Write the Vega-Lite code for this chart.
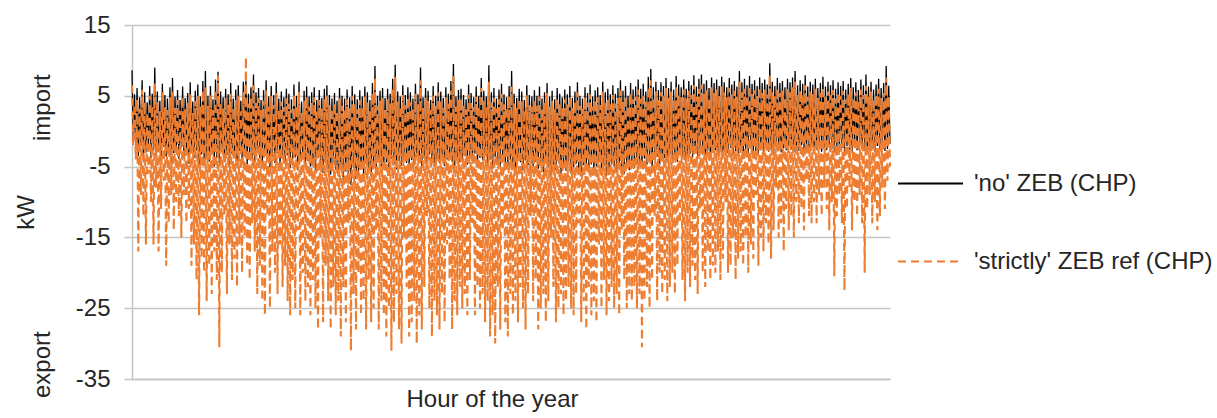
{
"$schema":"https://vega.github.io/schema/vega-lite/v6.json",
"width":758,"height":354,
"autosize":"none",
"padding":{"left":132,"top":25,"right":327,"bottom":39},
"background":"white",
"config":{"view":{"stroke":null},"font":"Liberation Sans"},
"data":{"values":[
{"h":0,"n":8.6,"o":6.5},{"h":1,"n":-1.5,"o":-2},{"h":2,"n":5.2,"o":3.8},{"h":3,"n":-2.8,"o":-4},{"h":4,"n":6.1,"o":4.5},{"h":5,"n":-3.5,"o":-17},{"h":6,"n":4.8,"o":3.2},{"h":7,"n":-2.1,"o":-9},{"h":8,"n":7.2,"o":5.9},{"h":9,"n":-4.2,"o":-12},{"h":10,"n":5.5,"o":4.1},{"h":11,"n":-3.0,"o":-16},{"h":12,"n":4.1,"o":2.5},{"h":13,"n":-2.4,"o":-6},{"h":14,"n":6.4,"o":5.0},{"h":15,"n":-3.8,"o":-10},{"h":16,"n":5.3,"o":3.6},{"h":17,"n":-2.7,"o":-16},{"h":18,"n":9.0,"o":6.8},{"h":19,"n":-3.3,"o":-8},
{"h":20,"n":5.6,"o":4.2},{"h":21,"n":-2.9,"o":-17},{"h":22,"n":4.3,"o":2.8},{"h":23,"n":-4.1,"o":-11},{"h":24,"n":6.7,"o":5.5},{"h":25,"n":-2.2,"o":-7},{"h":26,"n":5.1,"o":3.4},{"h":27,"n":-3.6,"o":-19},{"h":28,"n":4.6,"o":3.0},{"h":29,"n":-2.5,"o":-13},{"h":30,"n":6.2,"o":4.8},{"h":31,"n":-4.4,"o":-9},{"h":32,"n":7.5,"o":5.6},{"h":33,"n":-3.1,"o":-14},{"h":34,"n":4.9,"o":3.3},{"h":35,"n":-2.6,"o":-10},{"h":36,"n":5.8,"o":4.4},{"h":37,"n":-3.9,"o":-12},{"h":38,"n":4.4,"o":2.9},{"h":39,"n":-2.3,"o":-15},
{"h":40,"n":6.3,"o":4.9},{"h":41,"n":-3.4,"o":-9},{"h":42,"n":4.7,"o":3.1},{"h":43,"n":-2.4,"o":-13},{"h":44,"n":5.4,"o":4.0},{"h":45,"n":-4.6,"o":-11},{"h":46,"n":6.9,"o":5.2},{"h":47,"n":-3.0,"o":-19},{"h":48,"n":4.2,"o":2.6},{"h":49,"n":-3.8,"o":-16},{"h":50,"n":5.7,"o":4.3},{"h":51,"n":-2.7,"o":-21},{"h":52,"n":6.6,"o":5.0},{"h":53,"n":-4.9,"o":-26},{"h":54,"n":4.9,"o":3.5},{"h":55,"n":-3.3,"o":-18},{"h":56,"n":7.1,"o":5.8},{"h":57,"n":-4.1,"o":-20},{"h":58,"n":8.5,"o":6.2},{"h":59,"n":-3.6,"o":-24},
{"h":60,"n":5.0,"o":3.6},{"h":61,"n":-4.3,"o":-19},{"h":62,"n":6.4,"o":5.1},{"h":63,"n":-3.1,"o":-23},{"h":64,"n":4.5,"o":3.0},{"h":65,"n":-5.0,"o":-17},{"h":66,"n":7.3,"o":5.9},{"h":67,"n":-3.7,"o":-21},{"h":68,"n":8.4,"o":7.9},{"h":69,"n":-4.5,"o":-30.5},{"h":70,"n":5.6,"o":4.0},{"h":71,"n":-2.9,"o":-20},{"h":72,"n":4.8,"o":3.2},{"h":73,"n":-4.0,"o":-12},{"h":74,"n":6.0,"o":4.7},{"h":75,"n":-3.4,"o":-23},{"h":76,"n":5.2,"o":3.9},{"h":77,"n":-4.8,"o":-16},{"h":78,"n":6.8,"o":5.3},{"h":79,"n":-3.2,"o":-21},
{"h":80,"n":4.6,"o":3.3},{"h":81,"n":-3.5,"o":-18},{"h":82,"n":5.9,"o":4.4},{"h":83,"n":-4.6,"o":-22},{"h":84,"n":6.5,"o":5.0},{"h":85,"n":-2.8,"o":-16},{"h":86,"n":4.3,"o":2.8},{"h":87,"n":-4.0,"o":-20},{"h":88,"n":7.0,"o":5.6},{"h":89,"n":-3.3,"o":-15},{"h":90,"n":8.0,"o":10.5},{"h":91,"n":-4.7,"o":-19},{"h":92,"n":5.3,"o":3.9},{"h":93,"n":-3.0,"o":-21},{"h":94,"n":6.2,"o":4.8},{"h":95,"n":-3.9,"o":-13},{"h":96,"n":8.0,"o":6.5},{"h":97,"n":-4.4,"o":-17},{"h":98,"n":5.5,"o":4.0},{"h":99,"n":-2.6,"o":-23},
{"h":100,"n":6.1,"o":4.7},{"h":101,"n":-3.8,"o":-19},{"h":102,"n":4.4,"o":3.0},{"h":103,"n":-4.9,"o":-24},{"h":104,"n":5.8,"o":4.3},{"h":105,"n":-3.2,"o":-26},{"h":106,"n":7.2,"o":5.8},{"h":107,"n":-4.3,"o":-12},{"h":108,"n":4.9,"o":3.5},{"h":109,"n":-5.1,"o":-25},{"h":110,"n":6.4,"o":5.0},{"h":111,"n":-3.6,"o":-17},{"h":112,"n":5.1,"o":3.7},{"h":113,"n":-4.5,"o":-20},{"h":114,"n":6.9,"o":5.4},{"h":115,"n":-3.1,"o":-23},{"h":116,"n":4.6,"o":3.2},{"h":117,"n":-4.8,"o":-16},{"h":118,"n":5.6,"o":4.2},{"h":119,"n":-3.9,"o":-22},
{"h":120,"n":4.8,"o":3.4},{"h":121,"n":-4.6,"o":-19},{"h":122,"n":6.0,"o":4.6},{"h":123,"n":-3.4,"o":-24},{"h":124,"n":5.3,"o":3.9},{"h":125,"n":-5.2,"o":-26},{"h":126,"n":4.5,"o":3.1},{"h":127,"n":-4.0,"o":-21},{"h":128,"n":6.6,"o":5.2},{"h":129,"n":-3.7,"o":-25},{"h":130,"n":5.0,"o":3.6},{"h":131,"n":-5.5,"o":-14},{"h":132,"n":7.0,"o":5.6},{"h":133,"n":-4.1,"o":-26},{"h":134,"n":4.2,"o":2.8},{"h":135,"n":-3.5,"o":-20},{"h":136,"n":5.7,"o":4.3},{"h":137,"n":-4.9,"o":-24},{"h":138,"n":6.3,"o":4.9},{"h":139,"n":-4.2,"o":-22},
{"h":140,"n":4.9,"o":3.5},{"h":141,"n":-5.0,"o":-26},{"h":142,"n":5.5,"o":4.1},{"h":143,"n":-4.2,"o":-21},{"h":144,"n":6.2,"o":4.8},{"h":145,"n":-5.6,"o":-25},{"h":146,"n":4.4,"o":3.0},{"h":147,"n":-3.8,"o":-28},{"h":148,"n":5.8,"o":4.4},{"h":149,"n":-4.7,"o":-15},{"h":150,"n":4.7,"o":3.3},{"h":151,"n":-5.9,"o":-27},{"h":152,"n":6.0,"o":4.6},{"h":153,"n":-4.4,"o":-19},{"h":154,"n":6.5,"o":5.1},{"h":155,"n":-5.3,"o":-24},{"h":156,"n":5.1,"o":3.7},{"h":157,"n":-6.1,"o":-28},{"h":158,"n":4.6,"o":3.2},{"h":159,"n":-4.5,"o":-22},
{"h":160,"n":5.4,"o":4.0},{"h":161,"n":-5.4,"o":-26},{"h":162,"n":4.3,"o":2.9},{"h":163,"n":-6.3,"o":-24},{"h":164,"n":6.1,"o":4.7},{"h":165,"n":-4.8,"o":-29},{"h":166,"n":5.0,"o":3.6},{"h":167,"n":-7.0,"o":-22},{"h":168,"n":4.6,"o":3.2},{"h":169,"n":-5.7,"o":-27},{"h":170,"n":5.9,"o":4.5},{"h":171,"n":-6.5,"o":-13},{"h":172,"n":4.8,"o":3.4},{"h":173,"n":-7.6,"o":-31},{"h":174,"n":6.4,"o":5.0},{"h":175,"n":-5.1,"o":-23},{"h":176,"n":5.2,"o":3.8},{"h":177,"n":-6.8,"o":-28},{"h":178,"n":4.5,"o":3.1},{"h":179,"n":-5.9,"o":-20},
{"h":180,"n":5.8,"o":4.4},{"h":181,"n":-5.2,"o":-26},{"h":182,"n":4.9,"o":3.5},{"h":183,"n":-6.0,"o":-24},{"h":184,"n":6.3,"o":4.9},{"h":185,"n":-4.6,"o":-28},{"h":186,"n":5.5,"o":4.1},{"h":187,"n":-5.5,"o":-21},{"h":188,"n":4.4,"o":3.0},{"h":189,"n":-6.4,"o":-27},{"h":190,"n":6.8,"o":5.4},{"h":191,"n":-4.9,"o":-25},{"h":192,"n":9.2,"o":7.5},{"h":193,"n":-5.7,"o":-14},{"h":194,"n":5.0,"o":3.6},{"h":195,"n":-4.3,"o":-28},{"h":196,"n":5.7,"o":4.3},{"h":197,"n":-5.0,"o":-24},{"h":198,"n":6.1,"o":4.7},{"h":199,"n":-4.7,"o":-26},
{"h":200,"n":4.7,"o":3.3},{"h":201,"n":-4.4,"o":-29},{"h":202,"n":6.0,"o":4.6},{"h":203,"n":-5.1,"o":-25},{"h":204,"n":5.3,"o":3.9},{"h":205,"n":-3.9,"o":-31},{"h":206,"n":7.4,"o":6.0},{"h":207,"n":-4.7,"o":-27},{"h":208,"n":9.4,"o":7.7},{"h":209,"n":-5.4,"o":-23},{"h":210,"n":5.6,"o":4.2},{"h":211,"n":-4.2,"o":-28},{"h":212,"n":4.9,"o":3.5},{"h":213,"n":-4.9,"o":-30},{"h":214,"n":6.5,"o":5.1},{"h":215,"n":-3.7,"o":-15},{"h":216,"n":5.1,"o":3.7},{"h":217,"n":-4.5,"o":-22},{"h":218,"n":6.2,"o":4.8},{"h":219,"n":-5.0,"o":-29},
{"h":220,"n":5.5,"o":4.1},{"h":221,"n":-4.1,"o":-27},{"h":222,"n":4.6,"o":3.2},{"h":223,"n":-4.8,"o":-24},{"h":224,"n":6.7,"o":5.3},{"h":225,"n":-3.6,"o":-30},{"h":226,"n":5.2,"o":3.8},{"h":227,"n":-4.4,"o":-26},{"h":228,"n":9.0,"o":7.2},{"h":229,"n":-5.2,"o":-28},{"h":230,"n":4.8,"o":3.4},{"h":231,"n":-3.9,"o":-22},{"h":232,"n":6.1,"o":4.7},{"h":233,"n":-4.6,"o":-12},{"h":234,"n":5.7,"o":4.3},{"h":235,"n":-3.3,"o":-25},{"h":236,"n":4.4,"o":3.0},{"h":237,"n":-4.2,"o":-29},{"h":238,"n":6.4,"o":5.0},{"h":239,"n":-4.9,"o":-24},
{"h":240,"n":5.0,"o":3.6},{"h":241,"n":-3.8,"o":-26},{"h":242,"n":6.9,"o":5.5},{"h":243,"n":-4.5,"o":-28},{"h":244,"n":5.6,"o":4.2},{"h":245,"n":-3.4,"o":-23},{"h":246,"n":4.7,"o":3.3},{"h":247,"n":-4.9,"o":-27},{"h":248,"n":6.2,"o":4.8},{"h":249,"n":-4.0,"o":-16},{"h":250,"n":5.3,"o":3.9},{"h":251,"n":-3.6,"o":-21},{"h":252,"n":7.1,"o":5.7},{"h":253,"n":-4.3,"o":-28},{"h":254,"n":9.5,"o":7.8},{"h":255,"n":-5.0,"o":-24},{"h":256,"n":4.9,"o":3.5},{"h":257,"n":-3.7,"o":-26},{"h":258,"n":5.8,"o":4.4},{"h":259,"n":-4.4,"o":-22},
{"h":260,"n":6.0,"o":4.6},{"h":261,"n":-4.2,"o":-25},{"h":262,"n":5.1,"o":3.7},{"h":263,"n":-3.5,"o":-23},{"h":264,"n":4.5,"o":3.1},{"h":265,"n":-4.7,"o":-26},{"h":266,"n":6.6,"o":5.2},{"h":267,"n":-3.9,"o":-21},{"h":268,"n":5.4,"o":4.0},{"h":269,"n":-4.4,"o":-13},{"h":270,"n":4.8,"o":3.4},{"h":271,"n":-3.2,"o":-26},{"h":272,"n":6.3,"o":4.9},{"h":273,"n":-4.6,"o":-22},{"h":274,"n":5.0,"o":3.6},{"h":275,"n":-3.8,"o":-25},{"h":276,"n":7.5,"o":6.1},{"h":277,"n":-4.1,"o":-23},{"h":278,"n":5.7,"o":4.3},{"h":279,"n":-3.4,"o":-27},
{"h":280,"n":4.9,"o":3.5},{"h":281,"n":-4.8,"o":-24},{"h":282,"n":9.3,"o":7.0},{"h":283,"n":-4.0,"o":-29},{"h":284,"n":5.5,"o":4.1},{"h":285,"n":-5.3,"o":-26},{"h":286,"n":6.1,"o":4.7},{"h":287,"n":-3.7,"o":-30},{"h":288,"n":4.6,"o":3.2},{"h":289,"n":-4.5,"o":-22},{"h":290,"n":5.9,"o":4.5},{"h":291,"n":-5.0,"o":-28},{"h":292,"n":6.7,"o":5.3},{"h":293,"n":-3.9,"o":-14},{"h":294,"n":5.2,"o":3.8},{"h":295,"n":-4.7,"o":-27},{"h":296,"n":4.8,"o":3.4},{"h":297,"n":-5.4,"o":-29},{"h":298,"n":6.4,"o":5.0},{"h":299,"n":-4.1,"o":-23},
{"h":300,"n":8.5,"o":6.3},{"h":301,"n":-4.6,"o":-26},{"h":302,"n":5.3,"o":3.9},{"h":303,"n":-5.2,"o":-24},{"h":304,"n":4.7,"o":3.3},{"h":305,"n":-3.9,"o":-27},{"h":306,"n":6.0,"o":4.6},{"h":307,"n":-4.4,"o":-22},{"h":308,"n":5.6,"o":4.2},{"h":309,"n":-5.6,"o":-25},{"h":310,"n":4.4,"o":3.0},{"h":311,"n":-4.1,"o":-28},{"h":312,"n":6.5,"o":5.1},{"h":313,"n":-4.8,"o":-23},{"h":314,"n":5.1,"o":3.7},{"h":315,"n":-3.6,"o":-12},{"h":316,"n":4.9,"o":3.5},{"h":317,"n":-5.0,"o":-24},{"h":318,"n":5.8,"o":4.4},{"h":319,"n":-4.3,"o":-21},
{"h":320,"n":5.0,"o":3.6},{"h":321,"n":-5.3,"o":-28},{"h":322,"n":6.3,"o":4.9},{"h":323,"n":-4.5,"o":-25},{"h":324,"n":4.6,"o":3.2},{"h":325,"n":-5.8,"o":-23},{"h":326,"n":5.5,"o":4.1},{"h":327,"n":-4.2,"o":-27},{"h":328,"n":6.8,"o":5.4},{"h":329,"n":-5.0,"o":-24},{"h":330,"n":4.9,"o":3.5},{"h":331,"n":-6.2,"o":-15},{"h":332,"n":5.7,"o":4.3},{"h":333,"n":-4.7,"o":-22},{"h":334,"n":4.5,"o":3.1},{"h":335,"n":-5.5,"o":-27},{"h":336,"n":6.1,"o":4.7},{"h":337,"n":-4.3,"o":-25},{"h":338,"n":5.3,"o":3.9},{"h":339,"n":-5.9,"o":-23},
{"h":340,"n":4.8,"o":3.4},{"h":341,"n":-4.9,"o":-26},{"h":342,"n":5.9,"o":4.5},{"h":343,"n":-5.6,"o":-24},{"h":344,"n":5.2,"o":3.8},{"h":345,"n":-4.4,"o":-22},{"h":346,"n":6.4,"o":5.0},{"h":347,"n":-6.0,"o":-25},{"h":348,"n":4.7,"o":3.3},{"h":349,"n":-5.1,"o":-26},{"h":350,"n":5.6,"o":4.2},{"h":351,"n":-4.6,"o":-23},{"h":352,"n":6.9,"o":5.5},{"h":353,"n":-5.4,"o":-13},{"h":354,"n":5.0,"o":3.6},{"h":355,"n":-6.4,"o":-27},{"h":356,"n":4.6,"o":3.2},{"h":357,"n":-4.8,"o":-24},{"h":358,"n":6.2,"o":4.8},{"h":359,"n":-5.2,"o":-28},
{"h":360,"n":5.4,"o":4.0},{"h":361,"n":-5.5,"o":-22},{"h":362,"n":6.6,"o":5.2},{"h":363,"n":-4.7,"o":-26},{"h":364,"n":4.9,"o":3.5},{"h":365,"n":-6.1,"o":-24},{"h":366,"n":5.8,"o":4.4},{"h":367,"n":-5.0,"o":-27},{"h":368,"n":6.2,"o":4.8},{"h":369,"n":-4.4,"o":-16},{"h":370,"n":5.1,"o":3.7},{"h":371,"n":-5.7,"o":-25},{"h":372,"n":7.0,"o":5.6},{"h":373,"n":-4.9,"o":-21},{"h":374,"n":5.5,"o":4.1},{"h":375,"n":-6.3,"o":-26},{"h":376,"n":6.0,"o":4.6},{"h":377,"n":-5.2,"o":-24},{"h":378,"n":5.2,"o":3.8},{"h":379,"n":-4.6,"o":-22},
{"h":380,"n":6.5,"o":5.1},{"h":381,"n":-5.0,"o":-25},{"h":382,"n":5.3,"o":3.9},{"h":383,"n":-5.8,"o":-23},{"h":384,"n":6.1,"o":4.7},{"h":385,"n":-4.5,"o":-26},{"h":386,"n":7.2,"o":5.8},{"h":387,"n":-5.3,"o":-14},{"h":388,"n":5.7,"o":4.3},{"h":389,"n":-6.0,"o":-21},{"h":390,"n":6.4,"o":5.0},{"h":391,"n":-4.8,"o":-25},{"h":392,"n":5.0,"o":3.6},{"h":393,"n":-5.5,"o":-23},{"h":394,"n":6.8,"o":5.4},{"h":395,"n":-4.2,"o":-24},{"h":396,"n":5.9,"o":4.5},{"h":397,"n":-5.1,"o":-22},{"h":398,"n":6.3,"o":4.9},{"h":399,"n":-4.7,"o":-25},
{"h":400,"n":7.3,"o":5.9},{"h":401,"n":-4.4,"o":-23},{"h":402,"n":6.0,"o":4.6},{"h":403,"n":-5.1,"o":-30.5},{"h":404,"n":6.7,"o":5.3},{"h":405,"n":-3.9,"o":-24},{"h":406,"n":5.6,"o":4.2},{"h":407,"n":-4.7,"o":-22},{"h":408,"n":7.7,"o":6.3},{"h":409,"n":-4.2,"o":-25},{"h":410,"n":8.8,"o":7.2},{"h":411,"n":-5.3,"o":-21},{"h":412,"n":6.2,"o":4.8},{"h":413,"n":-4.0,"o":-12},{"h":414,"n":7.0,"o":5.6},{"h":415,"n":-3.6,"o":-24},{"h":416,"n":5.8,"o":4.4},{"h":417,"n":-4.8,"o":-20},{"h":418,"n":6.9,"o":5.5},{"h":419,"n":-4.1,"o":-23},
{"h":420,"n":6.4,"o":5.0},{"h":421,"n":-3.8,"o":-21},{"h":422,"n":7.5,"o":6.1},{"h":423,"n":-4.4,"o":-24},{"h":424,"n":6.1,"o":4.7},{"h":425,"n":-3.3,"o":-22},{"h":426,"n":7.0,"o":5.6},{"h":427,"n":-4.0,"o":-20},{"h":428,"n":5.9,"o":4.5},{"h":429,"n":-3.5,"o":-23},{"h":430,"n":7.8,"o":6.4},{"h":431,"n":-4.3,"o":-19},{"h":432,"n":6.6,"o":5.2},{"h":433,"n":-3.1,"o":-13},{"h":434,"n":6.2,"o":4.8},{"h":435,"n":-3.7,"o":-21},{"h":436,"n":7.3,"o":5.9},{"h":437,"n":-4.1,"o":-24},{"h":438,"n":6.0,"o":4.6},{"h":439,"n":-3.4,"o":-20},
{"h":440,"n":7.1,"o":5.7},{"h":441,"n":-3.2,"o":-22},{"h":442,"n":6.5,"o":5.1},{"h":443,"n":-3.8,"o":-19},{"h":444,"n":7.9,"o":6.5},{"h":445,"n":-2.9,"o":-21},{"h":446,"n":6.3,"o":4.9},{"h":447,"n":-3.5,"o":-23},{"h":448,"n":7.4,"o":6.0},{"h":449,"n":-2.6,"o":-11},{"h":450,"n":8.0,"o":6.6},{"h":451,"n":-3.3,"o":-20},{"h":452,"n":6.7,"o":5.3},{"h":453,"n":-3.9,"o":-22},{"h":454,"n":7.2,"o":5.8},{"h":455,"n":-2.8,"o":-17},{"h":456,"n":6.1,"o":4.7},{"h":457,"n":-3.4,"o":-21},{"h":458,"n":7.6,"o":6.2},{"h":459,"n":-3.0,"o":-19},
{"h":460,"n":6.8,"o":5.4},{"h":461,"n":-2.7,"o":-20},{"h":462,"n":7.3,"o":5.9},{"h":463,"n":-3.3,"o":-17},{"h":464,"n":6.4,"o":5.0},{"h":465,"n":-2.5,"o":-21},{"h":466,"n":7.7,"o":6.3},{"h":467,"n":-3.6,"o":-18},{"h":468,"n":6.9,"o":5.5},{"h":469,"n":-2.9,"o":-10},{"h":470,"n":6.2,"o":4.8},{"h":471,"n":-3.1,"o":-20},{"h":472,"n":7.5,"o":6.1},{"h":473,"n":-2.4,"o":-19},{"h":474,"n":6.6,"o":5.2},{"h":475,"n":-3.4,"o":-15},{"h":476,"n":7.1,"o":5.7},{"h":477,"n":-2.8,"o":-21},{"h":478,"n":6.3,"o":4.9},{"h":479,"n":-3.2,"o":-18},
{"h":480,"n":8.5,"o":7.0},{"h":481,"n":-2.9,"o":-17},{"h":482,"n":6.9,"o":5.5},{"h":483,"n":-3.4,"o":-19},{"h":484,"n":7.4,"o":6.0},{"h":485,"n":-2.6,"o":-15},{"h":486,"n":6.5,"o":5.1},{"h":487,"n":-3.1,"o":-20},{"h":488,"n":7.8,"o":6.4},{"h":489,"n":-2.4,"o":-16},{"h":490,"n":6.7,"o":5.3},{"h":491,"n":-3.5,"o":-18},{"h":492,"n":7.2,"o":5.8},{"h":493,"n":-2.8,"o":-9},{"h":494,"n":6.4,"o":5.0},{"h":495,"n":-3.2,"o":-19},{"h":496,"n":7.6,"o":6.2},{"h":497,"n":-2.5,"o":-15},{"h":498,"n":6.8,"o":5.4},{"h":499,"n":-3.0,"o":-17},
{"h":500,"n":7.3,"o":5.9},{"h":501,"n":-2.3,"o":-13},{"h":502,"n":6.6,"o":5.2},{"h":503,"n":-2.9,"o":-16},{"h":504,"n":9.6,"o":8.0},{"h":505,"n":-2.6,"o":-18},{"h":506,"n":7.0,"o":5.6},{"h":507,"n":-3.2,"o":-14},{"h":508,"n":6.4,"o":5.0},{"h":509,"n":-2.2,"o":-8},{"h":510,"n":7.5,"o":6.1},{"h":511,"n":-2.8,"o":-15},{"h":512,"n":6.8,"o":5.4},{"h":513,"n":-3.0,"o":-13},{"h":514,"n":7.1,"o":5.7},{"h":515,"n":-2.4,"o":-17},{"h":516,"n":6.2,"o":4.8},{"h":517,"n":-2.7,"o":-11},{"h":518,"n":7.4,"o":6.0},{"h":519,"n":-2.1,"o":-14},
{"h":520,"n":6.9,"o":5.5},{"h":521,"n":-2.5,"o":-12},{"h":522,"n":7.6,"o":6.2},{"h":523,"n":-3.0,"o":-15},{"h":524,"n":8.5,"o":7.0},{"h":525,"n":-2.3,"o":-10},{"h":526,"n":6.5,"o":5.1},{"h":527,"n":-2.8,"o":-13},{"h":528,"n":7.2,"o":5.8},{"h":529,"n":-2.0,"o":-11},{"h":530,"n":6.7,"o":5.3},{"h":531,"n":-2.6,"o":-14},{"h":532,"n":7.9,"o":6.5},{"h":533,"n":-3.1,"o":-7},{"h":534,"n":6.3,"o":4.9},{"h":535,"n":-2.4,"o":-12},{"h":536,"n":7.0,"o":5.6},{"h":537,"n":-2.2,"o":-13},{"h":538,"n":6.6,"o":5.2},{"h":539,"n":-2.9,"o":-10},
{"h":540,"n":7.4,"o":6.0},{"h":541,"n":-2.6,"o":-13},{"h":542,"n":6.1,"o":4.7},{"h":543,"n":-2.1,"o":-9},{"h":544,"n":6.8,"o":5.4},{"h":545,"n":-2.9,"o":-12},{"h":546,"n":7.7,"o":6.3},{"h":547,"n":-2.3,"o":-8},{"h":548,"n":6.3,"o":4.9},{"h":549,"n":-2.7,"o":-11},{"h":550,"n":7.0,"o":5.6},{"h":551,"n":-2.0,"o":-14},{"h":552,"n":6.5,"o":5.1},{"h":553,"n":-2.5,"o":-10},{"h":554,"n":7.2,"o":5.8},{"h":555,"n":-3.0,"o":-20.5},{"h":556,"n":6.0,"o":4.6},{"h":557,"n":-2.2,"o":-12},{"h":558,"n":6.9,"o":5.5},{"h":559,"n":-2.8,"o":-9},
{"h":560,"n":6.4,"o":5.0},{"h":561,"n":-2.4,"o":-13},{"h":562,"n":7.1,"o":5.7},{"h":563,"n":-2.9,"o":-22.5},{"h":564,"n":5.9,"o":4.5},{"h":565,"n":-2.1,"o":-11},{"h":566,"n":6.7,"o":5.3},{"h":567,"n":-2.6,"o":-8},{"h":568,"n":7.5,"o":6.1},{"h":569,"n":-3.0,"o":-14},{"h":570,"n":6.2,"o":4.8},{"h":571,"n":-2.3,"o":-10},{"h":572,"n":6.9,"o":5.5},{"h":573,"n":-2.7,"o":-12},{"h":574,"n":5.8,"o":4.4},{"h":575,"n":-2.0,"o":-9},{"h":576,"n":7.3,"o":5.9},{"h":577,"n":-2.5,"o":-13},{"h":578,"n":6.5,"o":5.1},{"h":579,"n":-2.8,"o":-20},
{"h":580,"n":8.0,"o":6.4},{"h":581,"n":-2.2,"o":-11},{"h":582,"n":6.3,"o":4.9},{"h":583,"n":-2.7,"o":-9},{"h":584,"n":7.0,"o":5.6},{"h":585,"n":-2.4,"o":-13},{"h":586,"n":5.9,"o":4.5},{"h":587,"n":-2.9,"o":-10},{"h":588,"n":6.6,"o":5.2},{"h":589,"n":-2.1,"o":-14},{"h":590,"n":7.4,"o":6.0},{"h":591,"n":-2.6,"o":-12},{"h":592,"n":6.1,"o":4.7},{"h":593,"n":-2.3,"o":-8},{"h":594,"n":6.8,"o":5.4},{"h":595,"n":-2.8,"o":-11},{"h":596,"n":9.2,"o":7.6},{"h":597,"n":-2.5,"o":-7},{"h":598,"n":6.4,"o":5.0},{"h":599,"n":-1.8,"o":-5}
]},
"transform":[{"fold":["n","o"],"as":["k","v"]}],
"encoding":{
 "x":{"field":"h","type":"quantitative","scale":{"domain":[0,599],"nice":false,"zero":false},
  "axis":{"title":"Hour of the year","labels":false,"ticks":false,"grid":false,"domainColor":"#c4c4c4","domainWidth":1.5,"titleFontSize":24,"titleFontWeight":"normal","titleFont":"Liberation Sans","titleColor":"#262626","titleX":360,"titleY":27,"titleBaseline":"alphabetic","titleAlign":"center"}},
 "y":{"field":"v","type":"quantitative","scale":{"domain":[-35,15],"nice":false,"zero":false},
  "axis":{"values":[-35,-25,-15,-5,5,15],"labelExpr":"'' + datum.value","grid":true,"gridColor":"#c4c4c4","gridWidth":1.5,"domainColor":"#c4c4c4","domainWidth":1.5,"tickColor":"#c4c4c4","tickSize":8,"tickWidth":1.5,"labelPadding":14,"labelFontSize":24,"labelFont":"Liberation Sans","labelColor":"#262626","title":"kW","titleFontSize":24,"titleFont":"Liberation Sans","titleFontWeight":"normal","titleColor":"#262626","titleAngle":-90,"titleX":-99,"titleY":187,"titleAlign":"center","titleBaseline":"alphabetic"}},
 "color":{"field":"k","type":"nominal","scale":{"domain":["n","o"],"range":["#000000","#ED7D31"]},
  "legend":{"orient":"none","legendX":765,"legendY":125,"title":null,"padding":0,"symbolType":"stroke","symbolSize":4225,"symbolStrokeWidth":1.8,"labelFontSize":24,"labelFont":"Liberation Sans","labelColor":"#262626","labelOffset":10,"rowPadding":32,"labelLimit":400,"labelExpr":"datum.label == 'n' ? \"'no' ZEB (CHP)\" : \"'strictly' ZEB ref (CHP)\""}},
 "strokeDash":{"field":"k","type":"nominal","scale":{"domain":["n","o"],"range":[[1,0],[8,5]]},
  "legend":{"orient":"none","legendX":765,"legendY":125,"title":null,"padding":0,"symbolType":"stroke","symbolSize":4225,"symbolStrokeWidth":1.8,"labelFontSize":24,"labelFont":"Liberation Sans","labelColor":"#262626","labelOffset":10,"rowPadding":32,"labelLimit":400,"labelExpr":"datum.label == 'n' ? \"'no' ZEB (CHP)\" : \"'strictly' ZEB ref (CHP)\""}}
},
"layer":[
 {"transform":[{"filter":"datum.k == 'n'"}],"mark":{"type":"line","strokeWidth":1.3}},
 {"transform":[{"filter":"datum.k == 'o'"}],"mark":{"type":"line","strokeWidth":2.1},
  "encoding":{"y":{"field":"v","type":"quantitative","scale":{"domain":[-35,15],"nice":false,"zero":false},
   "axis":{"orient":"left","values":[3.4,-32.9],"labelExpr":"datum.value > 0 ? 'import' : 'export'","grid":false,"ticks":false,"domain":false,"labelAngle":-90,"labelAlign":"center","labelBaseline":"alphabetic","labelPadding":0,"offset":83,"labelFontSize":24,"labelFont":"Liberation Sans","labelColor":"#262626","title":null,"labelFlush":false,"labelOverlap":false,"labelBound":false}}}}
],
"resolve":{"axis":{"y":"independent"}}
}
